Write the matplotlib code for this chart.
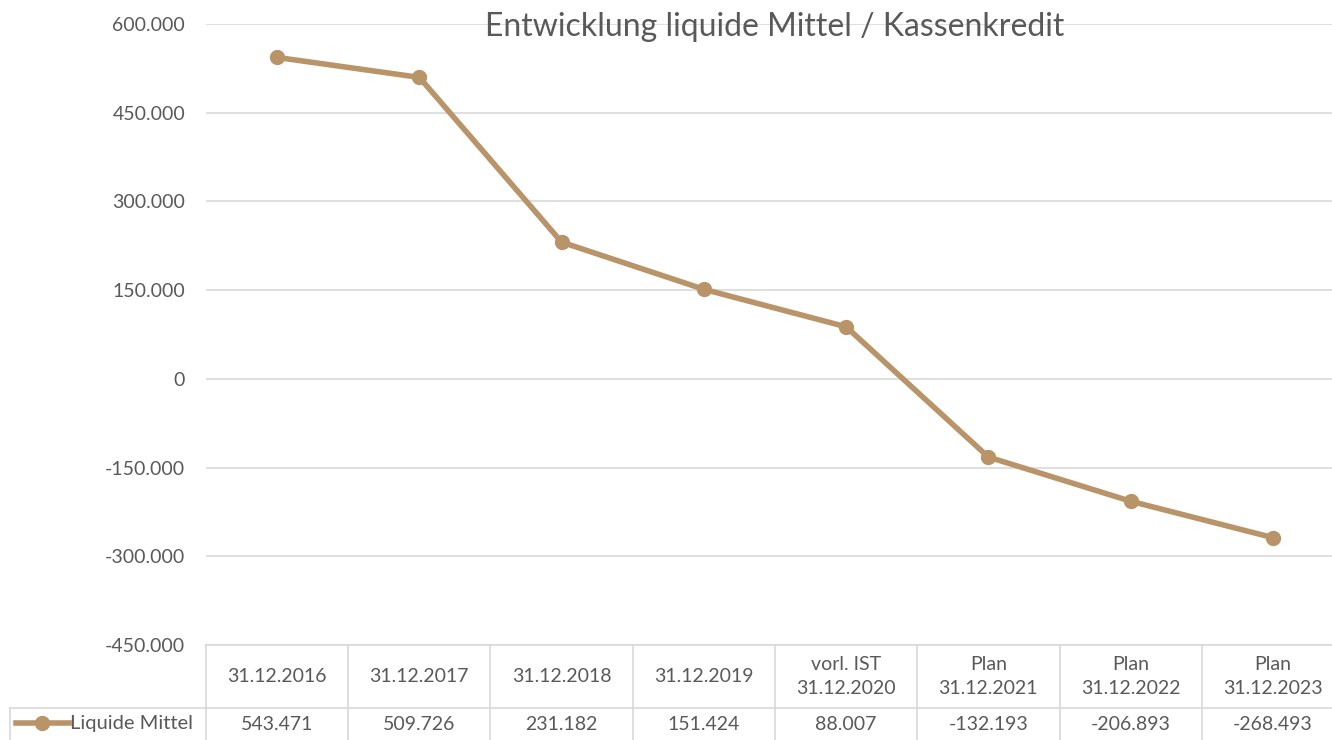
import numpy as np
import matplotlib.pyplot as plt
import matplotlib.transforms as mtransforms
from matplotlib.ticker import FuncFormatter, MultipleLocator

plt.rcParams['font.family'] = ['Lato', 'DejaVu Sans']

categories = ['31.12.2016', '31.12.2017', '31.12.2018', '31.12.2019',
              'vorl. IST\n31.12.2020', 'Plan\n31.12.2021', 'Plan\n31.12.2022', 'Plan\n31.12.2023']
liquide_mittel = [543471, 509726, 231182, 151424, 88007, -132193, -206893, -268493]
series_name = 'Liquide Mittel'
title = 'Entwicklung liquide Mittel / Kassenkredit'

line_color = '#B89468'
grid_color = '#D9D9D9'
text_color = '#595959'

W, H = 1332, 740
fig = plt.figure(figsize=(W / 100, H / 100), dpi=100)
# plot area in pixels: left 206, right 1344 (clipped), top 24, bottom 645
ax = fig.add_axes([206 / W, 1 - 645 / H, (1344 - 206) / W, (645 - 24) / H])

x = np.arange(len(categories))
ax.plot(x, liquide_mittel, color=line_color, lw=4, marker='o', ms=10, zorder=3)

ax.set_xlim(-0.5, len(categories) - 0.5)
ax.set_ylim(-450000, 600000)
ax.yaxis.set_major_locator(MultipleLocator(150000))


def de_fmt(v, pos=None):
    return f'{int(round(v)):,}'.replace(',', '.')


ax.yaxis.set_major_formatter(FuncFormatter(de_fmt))
ax.grid(axis='y', color=grid_color, lw=1.2)
ax.set_axisbelow(True)
ax.tick_params(axis='y', length=0, pad=15, labelsize=14, labelcolor=text_color)
ax.tick_params(axis='x', length=0, labelbottom=False)
for s in ax.spines.values():
    s.set_visible(False)

fig.text(775 / W, 1 - 27 / H, title, ha='center', va='center', fontsize=23, color=text_color)

# data table below the plot
ah = 645 - 24
y_head = -(708 - 645) / ah
y_bot = -(742 - 645) / ah
trans = mtransforms.blended_transform_factory(ax.transData, ax.transAxes)
kw = dict(color=grid_color, lw=1.2, clip_on=False, transform=trans)
n = len(categories)
for i in range(n + 1):
    ax.plot([i - 0.5, i - 0.5], [0, y_bot], **kw)
ax.plot([-0.5, n - 0.5], [0, 0], **kw)
ax.plot([-0.5, n - 0.5], [y_head, y_head], **kw)

for i, (c, v) in enumerate(zip(categories, liquide_mittel)):
    ax.text(i, y_head / 2, c, transform=trans, ha='center', va='center',
            fontsize=14, color=text_color, linespacing=1.45, clip_on=False)
    ax.text(i, (y_head + y_bot) / 2, de_fmt(v), transform=trans, ha='center', va='center',
            fontsize=14, color=text_color, clip_on=False)

# legend cell
fy = lambda py: 1 - py / H
fig.add_artist(plt.Line2D([10 / W, 206 / W], [fy(708), fy(708)], color=grid_color, lw=1.2))
fig.add_artist(plt.Line2D([10 / W, 10 / W], [fy(708), fy(742)], color=grid_color, lw=1.2))
fig.add_artist(plt.Line2D([16 / W, 69 / W], [fy(723), fy(723)], color=line_color, lw=4))
fig.add_artist(plt.Line2D([42 / W], [fy(723)], color=line_color, marker='o', ms=10))
fig.text(70 / W, fy(723), series_name, ha='left', va='center', fontsize=14.5, color=text_color)

fig.savefig('out.png', dpi=100)
